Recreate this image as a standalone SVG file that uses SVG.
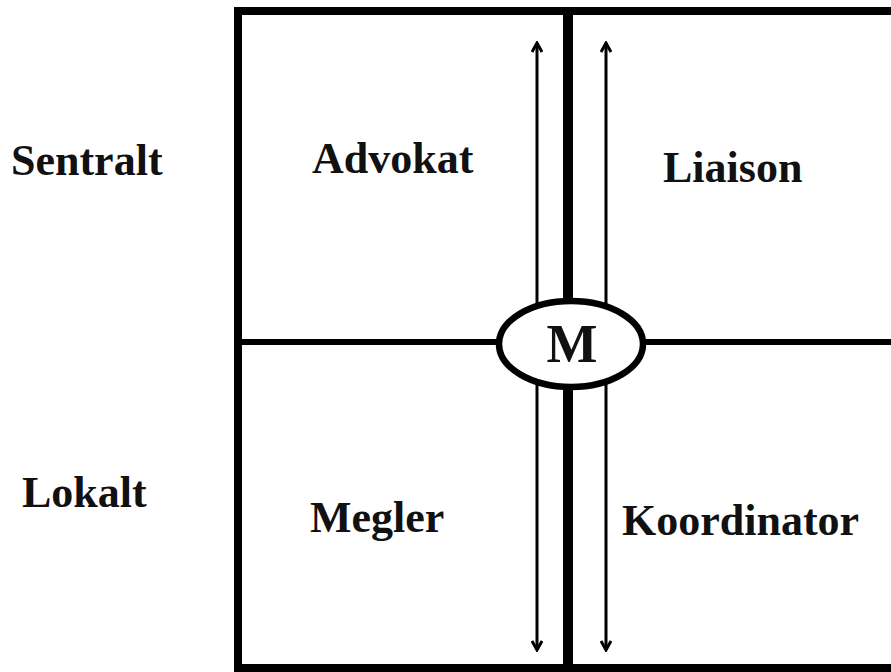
<svg xmlns="http://www.w3.org/2000/svg" width="891" height="672" viewBox="0 0 891 672">
<defs>
<marker id="ah" viewBox="0 0 12 12" refX="10" refY="6" markerWidth="12" markerHeight="12" markerUnits="userSpaceOnUse" orient="auto">
<path d="M1,1 L10,6 L1,11" fill="none" stroke="#000" stroke-width="3"/>
</marker>
<style>
.lbl{font-family:"Liberation Serif","Times New Roman",serif;font-weight:bold;font-size:44px;fill:#111;}
.big{font-size:54px;}
.frame{stroke:#000;fill:none;}
.arr{stroke:#000;stroke-width:3;fill:none;marker-end:url(#ah);}
</style>
</defs>
<rect width="891" height="672" fill="#fff"/>
<g id="frame">
<path class="frame" stroke-width="8" d="M891,11 H238 V668 H891"/>
<line class="frame" stroke-width="10" x1="568" y1="11" x2="568" y2="672"/>
<line class="frame" stroke-width="6" x1="238" y1="342" x2="891" y2="342"/>
</g>
<g id="connectors">
<line class="arr" x1="537" y1="320" x2="537" y2="43"/>
<line class="arr" x1="606" y1="320" x2="606" y2="43"/>
<line class="arr" x1="537" y1="370" x2="537" y2="650"/>
<line class="arr" x1="606" y1="370" x2="606" y2="650"/>
</g>
<g id="node-M">
<ellipse cx="571" cy="344" rx="72" ry="43" fill="#fff" stroke="#000" stroke-width="6.5"/>
<text class="lbl big" x="572" y="362" text-anchor="middle">M</text>
</g>
<g id="row-sentralt"><text class="lbl" x="11" y="175">Sentralt</text></g>
<g id="row-lokalt"><text class="lbl" x="22" y="507">Lokalt</text></g>
<g id="node-advokat"><text class="lbl" x="312" y="173">Advokat</text></g>
<g id="node-liaison"><text class="lbl" x="663" y="182">Liaison</text></g>
<g id="node-megler"><text class="lbl" x="310" y="532">Megler</text></g>
<g id="node-koordinator"><text class="lbl" x="622" y="535">Koordinator</text></g>
</svg>
